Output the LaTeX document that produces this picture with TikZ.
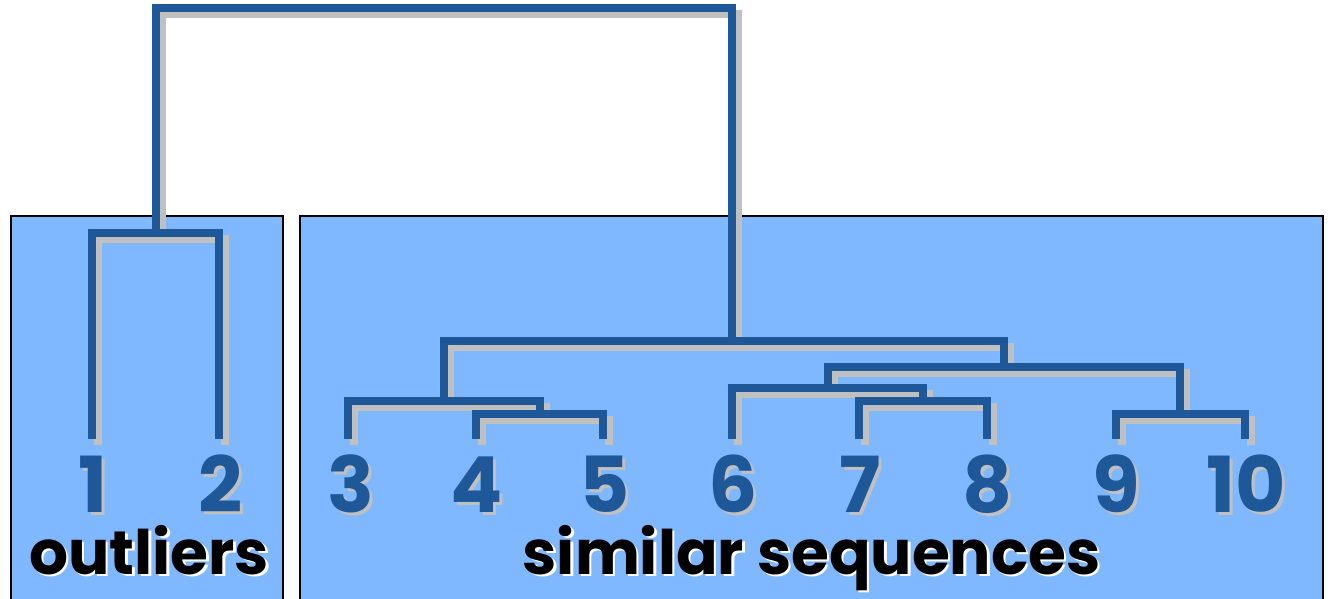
\documentclass[tikz,border=0pt]{standalone}
\usepackage{fontspec}
\newfontfamily\treefont{Poppins}
\definecolor{treeblue}{RGB}{31,88,153}
\definecolor{panel}{RGB}{128,184,255}
\definecolor{shade}{RGB}{192,192,192}
% text with a drop shadow offset down and to the right
\newcommand\dropshadowed[3]{\makebox[0pt][l]{\kern#2\raisebox{-#2}{\textcolor{#1}{#3}}}#3}
\tikzset{
  branch/.style={draw=treeblue, line width=6pt, line join=miter},
  panelbox/.style={fill=panel, draw=black, line width=1.5pt},
  digit/.style={font=\treefont\bfseries\fontsize{58}{58}\selectfont, text=treeblue, anchor=base, inner sep=0pt},
  caption/.style={font=\treefont\bfseries\fontsize{46}{46}\selectfont, text=black, anchor=base, inner sep=0pt},
}
% all branches of the dendrogram
\newcommand\treepaths{%
  \draw[branch] (l4) |- (m45) -| (l5);
  \draw[branch] (l3) |- (m345) -| (m45);
  \draw[branch] (l7) |- (m78) -| (l8);
  \draw[branch] (l6) |- (m678) -| (m78);
  \draw[branch] (l9) |- (m910) -| (l10);
  \draw[branch] (m678) |- (mB) -| (m910);
  \draw[branch] (m345) |- (mS) -| (mB);
  \draw[branch] (l1) |- (m12) -| (l2);
  \draw[branch] (m12) |- (mR) -| (mS);
}
\begin{document}
\begin{tikzpicture}[x=0.75pt,y=-0.75pt]
  \clip (0,0) rectangle (1331,599);
  \fill[white] (0,0) rectangle (1331,599);

  % the two panels
  \draw[panelbox] (11,216) rectangle (283,620);
  \draw[panelbox] (299.5,216) rectangle (1323,620);

  % leaf tops
  \coordinate (l1) at (91.5,439);
  \coordinate (l2) at (219,439);
  \coordinate (l3) at (347.5,439);
  \coordinate (l4) at (476,439);
  \coordinate (l5) at (603,439);
  \coordinate (l6) at (731.5,439);
  \coordinate (l7) at (859,439);
  \coordinate (l8) at (987,439);
  \coordinate (l9) at (1116,439);
  \coordinate (l10) at (1245,439);

  % merge points
  \coordinate (m45) at (540,414);
  \coordinate (m345) at (444,401);
  \coordinate (m78) at (923,401);
  \coordinate (m678) at (828,388);
  \coordinate (m910) at (1180,414);
  \coordinate (mB) at (1003.5,367);
  \coordinate (mS) at (731.5,341);
  \coordinate (m12) at (155.5,233);
  \coordinate (mR) at (443,8.5);

  % shadow, then the branches
  \begin{scope}[transform canvas={xshift=4.5pt,yshift=-4.5pt},
                branch/.style={draw=shade, line width=6pt, line join=miter}]
    \treepaths
  \end{scope}
  \treepaths

  % leaf numbers
  \foreach \n/\x in {1/93,2/221,3/351,4/477,5/605,6/733,7/860,8/988,9/1116,10/1246} {
    \node[digit] (d\n) at (\x,512) {\dropshadowed{shade}{2.25pt}{\n}};
  }

  % panel captions
  \node[caption] (outl) at (149,574) {\dropshadowed{white}{2pt}{outliers}};
  \node[caption] (simi) at (811.5,574) {\dropshadowed{white}{2pt}{similar sequences}};
\end{tikzpicture}
\end{document}
